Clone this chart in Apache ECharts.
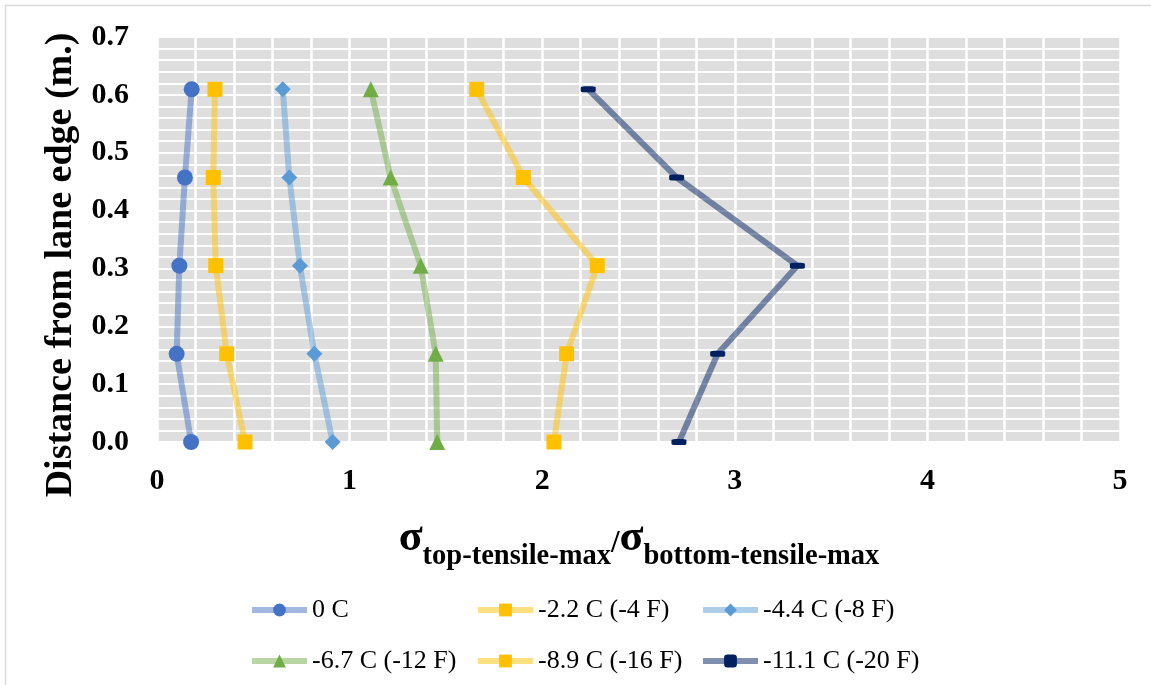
<!DOCTYPE html>
<html>
<head>
<meta charset="utf-8">
<script src="https://cdn.jsdelivr.net/npm/echarts@6/dist/echarts.min.js"></script>
<style>
html,body{margin:0;padding:0;background:#fff;}
#c{width:1151px;height:685px;}
</style>
</head>
<body>
<div id="c"></div>
<script>
// Data (distance from lane edge in m, stress ratios)
const distances = [0.6096, 0.4572, 0.3048, 0.1524, 0.0];
const seriesNames = ['0 C', '-2.2 C (-4 F)', '-4.4 C (-8 F)', '-6.7 C (-12 F)', '-8.9 C (-16 F)', '-11.1 C (-20 F)'];
const s0C    = [0.180, 0.145, 0.116, 0.102, 0.177];
const s2_2C  = [0.301, 0.292, 0.305, 0.362, 0.457];
const s4_4C  = [0.653, 0.687, 0.742, 0.817, 0.912];
const s6_7C  = [1.110, 1.213, 1.369, 1.447, 1.455];
const s8_9C  = [1.660, 1.902, 2.286, 2.127, 2.061];
const s11_1C = [2.239, 2.698, 3.325, 2.911, 2.710];
const xTicks = [0, 1, 2, 3, 4, 5];
const yTicks = [0, 0.1, 0.2, 0.3, 0.4, 0.5, 0.6, 0.7];

const values = [s0C, s2_2C, s4_4C, s6_7C, s8_9C, s11_1C];
const colors = ['#4472C4', '#FFC000', '#5B9BD5', '#70AD47', '#FFC000', '#002060'];
const symbols = ['circle', 'rect', 'diamond', 'triangle', 'rect', 'roundRect'];
const symbolSizes = [16, 15, 16, 16, 15, [15, 6]];

const serif = '"Liberation Serif", "Times New Roman", serif';

const series = values.map((v, i) => ({
  name: seriesNames[i],
  type: 'line',
  data: v.map((x, j) => [x, distances[j]]),
  symbol: symbols[i],
  symbolSize: symbolSizes[i],
  showSymbol: true,
  itemStyle: { color: colors[i], opacity: 1 },
  lineStyle: { color: colors[i], width: 6, opacity: 0.5 },
  emphasis: { disabled: true },
  animation: false,
  z: 2 + i
}));

// legend placement: 2 rows x 3 columns
const legendPos = [
  [244, 592], [470, 592], [695, 592],
  [244, 643], [470, 643], [695, 643]
];
const legends = seriesNames.map((n, i) => ({
  data: [n],
  left: legendPos[i][0],
  top: legendPos[i][1],
  orient: 'horizontal',
  itemWidth: 55,
  itemHeight: 16,
  itemGap: 4,
  selectedMode: false,
  lineStyle: { width: 6 },
  textStyle: { fontFamily: serif, fontSize: 26, color: '#000' }
}));

const chart = echarts.init(document.getElementById('c'), null, { renderer: 'canvas' });
chart.setOption({
  backgroundColor: '#fff',
  animation: false,
  grid: {
    left: 157, right: 31, top: 37, bottom: 243,
    show: true, backgroundColor: '#dedede', borderWidth: 0
  },
  xAxis: {
    type: 'value', min: xTicks[0], max: xTicks[xTicks.length - 1], interval: 1,
    axisLine: { show: false }, axisTick: { show: false },
    axisLabel: { fontFamily: serif, fontSize: 30, fontWeight: 'bold', color: '#000', margin: 24 },
    splitLine: { show: true, lineStyle: { color: '#ffffff', width: 2.5 } },
    minorTick: { show: false, splitNumber: 5 },
    minorSplitLine: { show: true, lineStyle: { color: '#ffffff', width: 2.5 } }
  },
  yAxis: {
    type: 'value', min: yTicks[0], max: yTicks[yTicks.length - 1], interval: 0.1,
    axisLine: { show: false }, axisTick: { show: false },
    axisLabel: { fontFamily: serif, fontSize: 30, fontWeight: 'bold', color: '#000', margin: 28,
      formatter: v => v.toFixed(1) },
    splitLine: { show: true, lineStyle: { color: '#ffffff', width: 2 } },
    minorTick: { show: false, splitNumber: 5 },
    minorSplitLine: { show: true, lineStyle: { color: '#ffffff', width: 2 } }
  },
  legend: legends,
  series: series,
  graphic: [
    { type: 'rect', shape: { x: 5.5, y: 5.5, width: 1160, height: 700 },
      style: { fill: 'none', stroke: '#d9d9d9', lineWidth: 1.5 }, z: -1, silent: true },
    { type: 'text', x: 61, y: 265, rotation: Math.PI / 2,
      style: { text: 'Distance from lane edge (m.)', fontFamily: serif, fontSize: 38, fontWeight: 'bold',
        fill: '#000', align: 'center', verticalAlign: 'middle' }, silent: true },
    { type: 'text', x: 639, y: 544,
      style: {
        text: '{s|σ}{b|top-tensile-max}{sl|/}{s|σ}{b|bottom-tensile-max}',
        align: 'center', verticalAlign: 'middle',
        rich: {
          s: { fontFamily: serif, fontSize: 44, fontWeight: 'bold', fill: '#000', verticalAlign: 'bottom', padding: [0, 0, 10, 0] },
          sl: { fontFamily: serif, fontSize: 31, fontWeight: 'bold', fill: '#000', verticalAlign: 'bottom', padding: [0, 0, 12, 0] },
          b: { fontFamily: serif, fontSize: 28.5, fontWeight: 'bold', fill: '#000', verticalAlign: 'bottom', padding: [0, 0, 0, 0] }
        }
      }, silent: true }
  ]
});
</script>
</body>
</html>
